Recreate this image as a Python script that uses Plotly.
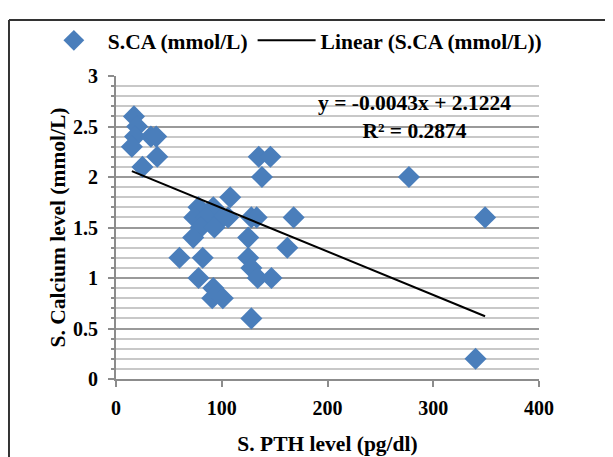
import plotly.graph_objects as go

# Data
pth = [17, 20, 18, 15, 33, 38, 39, 25,
       135, 146, 138, 108, 277, 349, 340, 168,
       78, 92, 74, 85, 106, 101, 128, 133, 80, 93, 73, 125,
       60, 82, 125, 162, 128, 134, 147, 78, 92, 91, 101, 128]
sca = [2.6, 2.5, 2.4, 2.3, 2.4, 2.4, 2.2, 2.1,
       2.2, 2.2, 2.0, 1.8, 2.0, 1.6, 0.2, 1.6,
       1.7, 1.7, 1.6, 1.6, 1.6, 1.6, 1.6, 1.6, 1.5, 1.5, 1.4, 1.4,
       1.2, 1.2, 1.2, 1.3, 1.1, 1.0, 1.0, 1.0, 0.9, 0.8, 0.8, 0.6]

slope = -0.0043
intercept = 2.1224
r2 = 0.2874

x_ticks = [0, 100, 200, 300, 400]
x_labels = ["0", "100", "200", "300", "400"]
y_ticks = [0, 0.5, 1, 1.5, 2, 2.5, 3]
y_labels = ["0", "0.5", "1", "1.5", "2", "2.5", "3"]

FONT = "Liberation Serif"
BLUE = "#4a7ebb"
FS = 20
FT = 21.5

trend_x = [min(pth), max(pth)]
trend_y = [slope * v + intercept for v in trend_x]

fig = go.Figure()
fig.add_trace(go.Scatter(
    x=pth, y=sca, mode="markers", name="<b>S.CA (mmol/L)</b>",
    marker=dict(symbol="diamond", size=17, color=BLUE),
))
fig.add_trace(go.Scatter(
    x=trend_x, y=trend_y, mode="lines", name="<b>Linear (S.CA (mmol/L))</b>",
    line=dict(color="black", width=2),
))

axis_font = dict(family=FONT, size=FS, color="black")

fig.update_layout(
    width=613, height=457,
    margin=dict(l=108, r=82, t=61, b=86),
    paper_bgcolor="white", plot_bgcolor="white",
    font=dict(family=FONT, color="black"),
    showlegend=True,
    legend=dict(orientation="h", x=-0.18, y=1.05, xanchor="left", yanchor="bottom",
                font=dict(family=FONT, size=FT, color="black"),
                itemwidth=58,
                bgcolor="rgba(0,0,0,0)", traceorder="normal"),
    xaxis=dict(range=[0, 400], tickvals=x_ticks, ticktext=[f"<b>{t}</b>" for t in x_labels],
               showgrid=False, zeroline=False,
               showline=True, linecolor="#8c8c8c", linewidth=2,
               ticks="outside", ticklen=6, tickcolor="#8c8c8c", tickwidth=2,
               tickfont=axis_font, ticklabelstandoff=4,
               title=dict(text="<b>S. PTH level (pg/dl)</b>", font=dict(family=FONT, size=FT),
                          standoff=18)),
    yaxis=dict(range=[0, 3], tickvals=y_ticks, ticktext=[f"<b>{t}</b>" for t in y_labels],
               zeroline=False,
               showline=True, linecolor="#8c8c8c", linewidth=2,
               ticks="outside", ticklen=6, tickcolor="#8c8c8c", tickwidth=2,
               tickfont=axis_font, ticklabelstandoff=6,
               showgrid=True, gridcolor="#9a9a9a", gridwidth=2,
               minor=dict(dtick=0.1, showgrid=True, gridcolor="#c8c8c8", gridwidth=2,
                          ticks="outside", ticklen=3, tickcolor="#8c8c8c"),
               title=dict(text="<b>S. Calcium level (mmol/L)</b>", font=dict(family=FONT, size=FT),
                          standoff=1)),
    annotations=[
        dict(x=0.705, y=0.865, xref="paper", yref="paper",
             text=f"<b>y = {slope}x + {intercept}<br>R² = {r2}</b>", showarrow=False,
             font=dict(family=FONT, size=FT, color="black"),
             align="center", xanchor="center", yanchor="middle"),
    ],
    shapes=[
        dict(type="line", xref="paper", yref="paper", x0=-0.253, x1=-0.253, y0=-0.4, y1=1.185,
             line=dict(color="#333333", width=2)),
        dict(type="line", xref="paper", yref="paper", x0=-0.253, x1=1.3, y0=1.185, y1=1.185,
             line=dict(color="#333333", width=2)),
    ],
)

fig.write_html("out.html")
